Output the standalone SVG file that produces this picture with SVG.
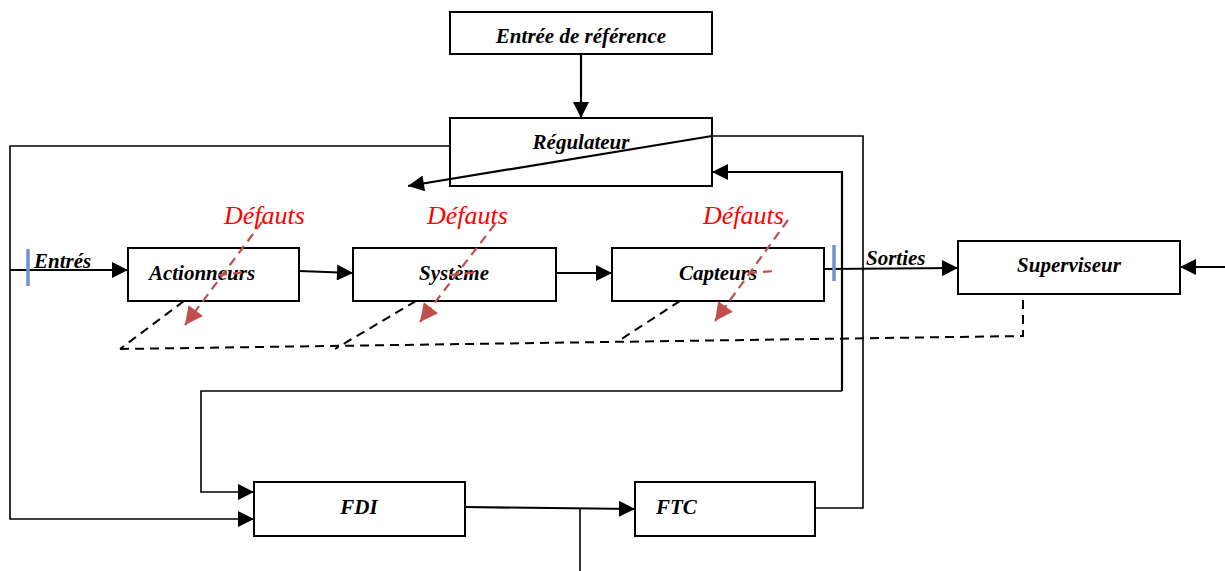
<svg xmlns="http://www.w3.org/2000/svg" width="1225" height="571" viewBox="0 0 1225 571">
  <style>
    .box { fill: #fff; stroke: #000; stroke-width: 2; }
    .lbl { font-family: "Liberation Serif", serif; font-style: italic; font-weight: bold; font-size: 21px; fill: #000; }
    .fault { font-family: "Liberation Serif", serif; font-style: italic; font-size: 26px; fill: #ff0000; }
    .wire { fill: none; stroke: #000; stroke-width: 2.2; }
    .thin { fill: none; stroke: #000; stroke-width: 1.6; }
    .dash { fill: none; stroke: #000; stroke-width: 2; stroke-dasharray: 9 6; }
    .red { fill: none; stroke: #c0504d; stroke-width: 2.2; stroke-dasharray: 9 6; }
    .tick { stroke: #7094c8; stroke-width: 3.5; }
  </style>
  <defs>
    <marker id="ah" viewBox="0 0 10 10" refX="10" refY="5" markerWidth="18" markerHeight="16" markerUnits="userSpaceOnUse" orient="auto">
      <path d="M0,0 L10,5 L0,10 z" fill="#000"/>
    </marker>
    <marker id="ahr" viewBox="0 0 10 10" refX="10" refY="5" markerWidth="20" markerHeight="18" markerUnits="userSpaceOnUse" orient="auto">
      <path d="M0,0 L10,5 L0,10 z" fill="#c0504d"/>
    </marker>
  </defs>

  <g id="ref">
    <rect class="box" x="450" y="12" width="262" height="42"/>
    <text class="lbl" x="581" y="43" text-anchor="middle">Entrée de référence</text>
  </g>
  <g id="regulateur">
    <rect class="box" x="450" y="118" width="262" height="68"/>
    <text class="lbl" x="581" y="149" text-anchor="middle">Régulateur</text>
  </g>
  <g id="actionneurs">
    <rect class="box" x="128" y="248" width="171" height="53"/>
    <text class="lbl" x="202" y="280" text-anchor="middle">Actionneurs</text>
  </g>
  <g id="systeme">
    <rect class="box" x="353" y="248" width="203" height="53"/>
    <text class="lbl" x="454" y="280" text-anchor="middle">Système</text>
  </g>
  <g id="capteurs">
    <rect class="box" x="612" y="248" width="212" height="53"/>
    <text class="lbl" x="718" y="280" text-anchor="middle">Capteurs</text>
  </g>
  <g id="superviseur">
    <rect class="box" x="958" y="241" width="222" height="53"/>
    <text class="lbl" x="1069" y="272" text-anchor="middle">Superviseur</text>
  </g>
  <g id="fdi">
    <rect class="box" x="254" y="482" width="211" height="54"/>
    <text class="lbl" x="359" y="514" text-anchor="middle">FDI</text>
  </g>
  <g id="ftc">
    <rect class="box" x="635" y="482" width="180" height="54"/>
    <text class="lbl" x="656" y="514">FTC</text>
  </g>

  <!-- connectors, drawn over the blocks -->
  <g id="connectors">
    <path class="wire" d="M581,54 V118" marker-end="url(#ah)"/>
    <path class="thin" d="M450,146 H10 V519 H254" marker-end="url(#ah)"/>
    <path class="thin" d="M815,508 H863 V136 H712"/>
    <path class="wire" d="M712,136 L408,186" marker-end="url(#ah)"/>
    <path class="wire" d="M842,391 V172 H712" marker-end="url(#ah)"/>
    <path class="thin" d="M842,391 H201 V492 H254" marker-end="url(#ah)"/>
    <path class="wire" d="M10,270 H128" marker-end="url(#ah)"/>
    <path class="wire" d="M299,271 L353,273" marker-end="url(#ah)"/>
    <path class="wire" d="M556,273 H612" marker-end="url(#ah)"/>
    <path class="wire" d="M824,269 L958,268" marker-end="url(#ah)"/>
    <path class="wire" d="M1225,267 H1180" marker-end="url(#ah)"/>
    <path class="wire" d="M465,507 L635,509" marker-end="url(#ah)"/>
    <path class="thin" d="M580,509 V571"/>
    <line class="tick" x1="28" y1="249" x2="28" y2="286"/>
    <line class="tick" x1="834" y1="245" x2="834" y2="281"/>
    <!-- supervision bus -->
    <path class="dash" d="M1023,300 V336 L120,349"/>
    <path class="dash" d="M184,301 L120,349"/>
    <path class="dash" d="M416,301 L335,349"/>
    <path class="dash" d="M680,301 L620,340"/>
    <!-- fault injections -->
    <path class="red" d="M262,222 L185,325" marker-end="url(#ahr)"/>
    <path class="red" d="M218,275 L248,272"/>
    <path class="red" d="M495,224 L420,322" marker-end="url(#ahr)"/>
    <path class="red" d="M450,275 L480,272"/>
    <path class="red" d="M788,220 L715,321" marker-end="url(#ahr)"/>
    <path class="red" d="M748,273 L775,271"/>
  </g>

  <g id="labels">
    <text class="lbl" x="34" y="268">Entrés</text>
    <text class="lbl" x="866" y="265">Sorties</text>
    <text class="fault" x="224" y="224">Défauts</text>
    <text class="fault" x="427" y="224">Défauts</text>
    <text class="fault" x="703" y="224">Défauts</text>
  </g>
</svg>
